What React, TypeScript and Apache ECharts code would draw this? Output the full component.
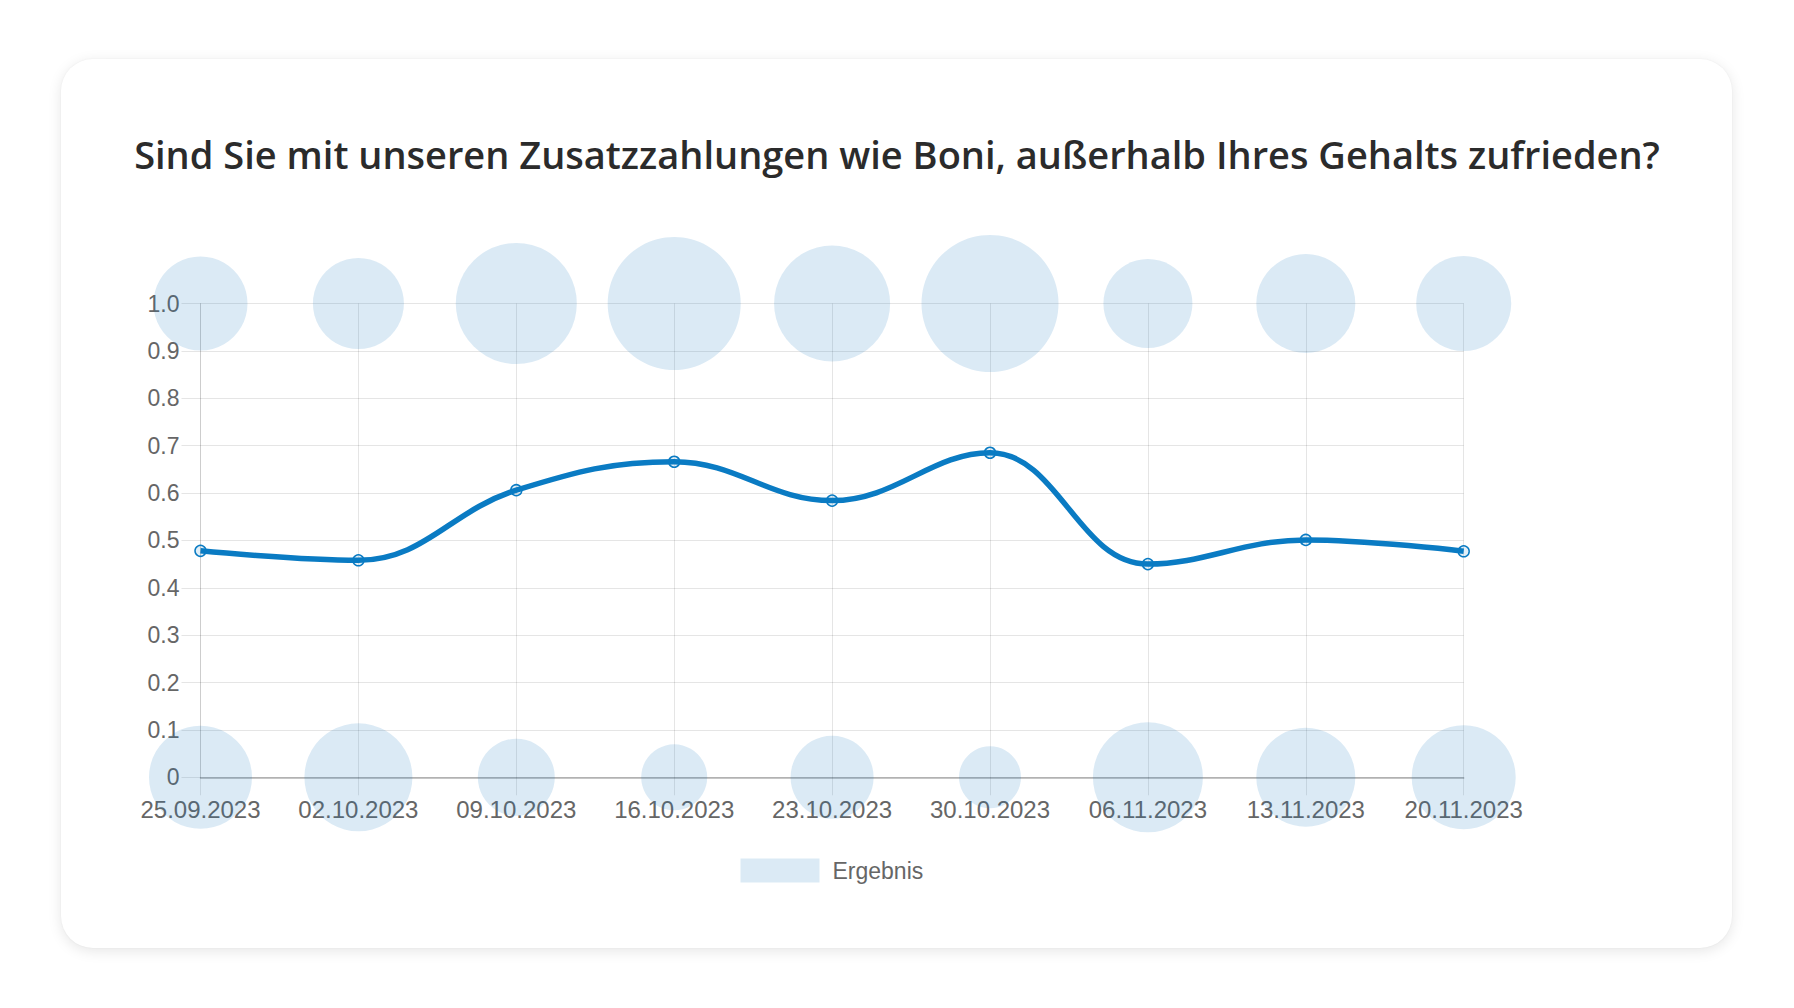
import React, { useEffect, useRef } from "react";
import * as echarts from "echarts";

const categories = [
  "25.09.2023",
  "02.10.2023",
  "09.10.2023",
  "16.10.2023",
  "23.10.2023",
  "30.10.2023",
  "06.11.2023",
  "13.11.2023",
  "20.11.2023",
];
// average result per week (line)
const lineValues = [0.478, 0.458, 0.606, 0.666, 0.584, 0.685, 0.45, 0.501, 0.477];
// bubble radii at value 1.0 (top row)
const topRadii = [47, 45.5, 60.5, 66.5, 58, 68.5, 44.5, 49.5, 47.5];
// bubble radii at value 0 (bottom row)
const bottomRadii = [51.5, 54, 38.5, 33, 41.5, 31, 55, 49.5, 52];

const TITLE = "Sind Sie mit unseren Zusatzzahlungen wie Boni, außerhalb Ihres Gehalts zufrieden?";
const LEGEND_NAME = "Ergebnis";

const LINE_COLOR = "#0a7bc3";
const BUBBLE_COLOR = "rgba(20,116,190,0.19)";
const GRID_COLOR = "rgba(0,0,0,0.1)";
const LABEL_FONT = "'Liberation Sans', Arial, Helvetica, sans-serif";

export default function App() {
  const ref = useRef<HTMLDivElement | null>(null);

  useEffect(() => {
    if (!ref.current) return;
    const chart = echarts.init(ref.current, undefined, { renderer: "svg" });
    chart.setOption({
      animation: false,
      backgroundColor: "transparent",
      title: {
        text: TITLE,
        left: "center",
        top: 129.5,
        textStyle: {
          fontFamily: "'Open Sans', sans-serif",
          fontWeight: 600,
          fontSize: 38,
          color: "#2b2b2b",
        },
      },
      legend: {
        data: [LEGEND_NAME],
        left: 735.5,
        top: 853.5,
        icon: "rect",
        itemWidth: 79,
        itemHeight: 24,
        selectedMode: false,
        textStyle: {
          fontFamily: LABEL_FONT,
          fontSize: 23,
          color: "#666",
          padding: [0, 0, 0, 8],
        },
      },
      grid: {
        left: 200.5,
        right: 330.3,
        top: 303.5,
        bottom: 230.7,
        containLabel: false,
      },
      xAxis: {
        type: "category",
        data: categories,
        boundaryGap: false,
        axisLine: { show: true, lineStyle: { color: "rgba(0,0,0,0.3)", width: 1.5 } },
        axisTick: { show: true, length: 18, lineStyle: { color: GRID_COLOR } },
        axisLabel: {
          margin: 20,
          fontFamily: LABEL_FONT,
          fontSize: 24,
          color: "#666",
          interval: 0,
        },
        splitLine: { show: true, lineStyle: { color: GRID_COLOR } },
      },
      yAxis: {
        type: "value",
        min: 0,
        max: 1,
        interval: 0.1,
        axisLine: { show: true, lineStyle: { color: GRID_COLOR } },
        axisTick: { show: true, length: 19, lineStyle: { color: GRID_COLOR } },
        axisLabel: {
          margin: 21,
          fontFamily: LABEL_FONT,
          fontSize: 23,
          color: "#666",
          formatter: (v: number) => (v === 0 ? "0" : v.toFixed(1)),
        },
        splitLine: { show: true, lineStyle: { color: GRID_COLOR } },
      },
      series: [
        {
          name: LEGEND_NAME,
          type: "scatter",
          clip: false,
          z: 1,
          data: topRadii.map((r, i) => [i, 1, r]),
          symbolSize: (v: number[]) => v[2] * 2,
          itemStyle: { color: BUBBLE_COLOR },
        },
        {
          name: LEGEND_NAME,
          type: "scatter",
          clip: false,
          z: 1,
          data: bottomRadii.map((r, i) => [i, 0, r]),
          symbolSize: (v: number[]) => v[2] * 2,
          itemStyle: { color: BUBBLE_COLOR },
        },
        {
          name: "Durchschnitt",
          type: "line",
          z: 3,
          data: lineValues,
          smooth: 0.4,
          symbol: "circle",
          symbolSize: 11,
          lineStyle: { color: LINE_COLOR, width: 5.5 },
          itemStyle: {
            color: "rgba(11,123,194,0.12)",
            borderColor: LINE_COLOR,
            borderWidth: 1.5,
          },
        },
      ],
    });
    return () => chart.dispose();
  }, []);

  return (
    <div
      style={{
        position: "fixed",
        left: 0,
        top: 0,
        width: 1794,
        height: 1008,
        background: "#ffffff",
        overflow: "hidden",
      }}
    >
      <div
        style={{
          position: "absolute",
          left: 61,
          top: 59,
          width: 1671,
          height: 889,
          borderRadius: 32,
          background: "#ffffff",
          boxShadow: "0 3px 14px rgba(0,0,0,0.10), 0 0 2px rgba(0,0,0,0.05)",
        }}
      />
      <div
        ref={ref}
        style={{ position: "absolute", left: 0, top: 0, width: 1794, height: 1008 }}
      />
    </div>
  );
}
